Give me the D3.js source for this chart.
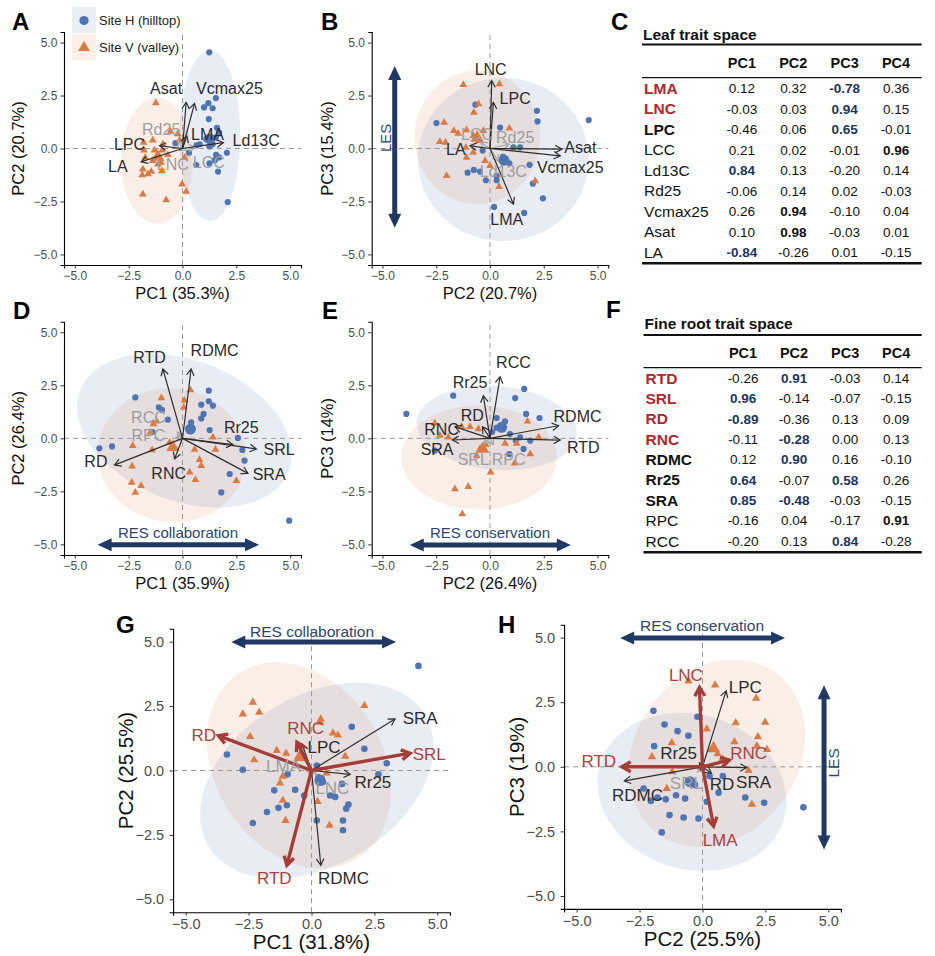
<!DOCTYPE html>
<html>
<head>
<meta charset="utf-8">
<script src="https://cdn.jsdelivr.net/npm/d3@7"></script>
<style>
  body { margin: 0; background: #fff; }
  svg { display: block; font-family: "Liberation Sans", Arial, Helvetica, sans-serif; }
</style>
</head>
<body>
<svg id="fig" width="935" height="956"></svg>
<script>
const blue = "#4f74b3";
const orange = "#dc7a43";
const red = "#a63c36";
const navy = "#1f3964";

// ---- A: leaf PCA, PC1 vs PC2
const aH = [[1.24,4.54],[1.55,2.38],[1.2,2.14],[1.0,1.94],[1.4,1.9],[1.22,1.39],[1.6,0.98],[1.7,0.75],[1.55,0.52],[1.1,0.44],[1.4,0.2],[1.25,0.1],[0.8,0.2],[0.65,0.15],[2.06,-0.2],[1.56,-0.3],[1.7,-0.42],[1.5,-0.55],[1.25,-0.7],[1.65,-1.09],[0.64,-0.78],[-0.33,0.25],[0.3,-0.2],[2.1,-2.53]];
const aV = [[-1.24,2.15],[-0.56,0.8],[-0.22,0.68],[-1.38,0.39],[-1.81,0.28],[-0.91,0.2],[-1.79,-0.08],[-1.3,-0.08],[-0.94,-0.08],[-0.68,-0.3],[-1.73,-0.43],[-1.38,-0.58],[-1.14,-0.74],[-0.99,-0.66],[-1.84,-0.98],[-1.6,-1.21],[-1.45,-1.09],[-1.87,-1.25],[-0.96,-1.06],[-0.02,-1.69],[0.17,-2.03],[-1.84,-2.16],[-0.76,-2.43],[-0.14,0.39],[0.1,-0.43]];
const aMean = [[1.27,0.45],[-1.15,-0.4]];
const aEll = [[1.27,0.6,1.41,4.02,0],[-1.19,-0.57,1.66,2.98,0]];
const aTraits = ["Rd25","LNC","LCC","Asat","Vcmax25","Ld13C","LPC","LA","LMA"];
const aLoad = [[-0.2,0.35],[-0.15,-0.1],[0.6,0.05],[0.17,2.18],[0.56,2.13],[1.9,0.28],[-1.07,0.13],[-1.92,-0.63],[0.2,0.6]];
const aLab = [[-0.99,0.91],[-0.45,-0.74],[1.22,-0.66],[-0.76,2.85],[2.18,2.85],[3.42,0.36],[-2.46,0.17],[-3.0,-0.85],[1.16,0.65]];
const aMinor = ["Rd25","LNC","LCC"];

// ---- B: leaf PCA, PC2 vs PC3
const bH = [[-2.49,1.2],[-0.68,2.07],[0.47,0.99],[2.18,1.78],[2.21,1.28],[4.59,1.34],[1.4,0.05],[1.09,0.05],[-0.34,-0.1],[1.84,-0.77],[-1.04,-1.14],[-0.75,-1.01],[-0.47,-1.09],[-0.19,-1.5],[0.31,-1.5],[0.31,-1.29],[1.99,-1.66],[2.46,-2.35],[0.19,-2.76],[1.59,-3.04],[0.6,-0.4],[0.9,-0.7]];
const bV = [[-1.24,3.01],[0.44,3.04],[-2.13,1.23],[-1.68,0.84],[-0.75,1.7],[-0.54,2.1],[-1.09,0.87],[-1.48,0.71],[-2.33,0.32],[-2.07,0.28],[-0.78,0.6],[-0.31,0.84],[0.9,0.95],[-1.12,0.05],[-0.78,-0.19],[-1.09,-0.43],[-0.23,-0.58],[0,-0.82],[-2.02,-1.29],[0.42,-1.81],[2.1,-1.53],[-0.47,0.36]];
const bMean = [[0.65,-0.55],[-0.6,0.5]];
const bEll = [[0.62,-0.52,3.97,3.85,0],[-0.59,0.52,2.92,3.15,0]];
const bTraits = ["LCC","Rd25","Ld13C","LNC","LPC","Asat","Vcmax25","LMA","LA"];
const bLoad = [[-0.45,0.3],[0.9,0.2],[0.4,-0.6],[0.08,3.2],[0.16,2.18],[3.34,-0.03],[3.27,-0.35],[1.09,-2.63],[-0.93,0.13]];
const bLab = [[-0.6,0.68],[1.17,0.52],[0.62,-1.09],[0.03,3.75],[1.17,2.38],[4.2,0.05],[3.73,-0.9],[0.78,-3.34],[-1.59,-0.03]];
const bMinor = ["LCC","Rd25","Ld13C"];

// ---- D: root PCA, PC1 vs PC2
const dH = [[-2.19,1.93],[1.22,2.25],[1.22,1.75],[1.41,1.54],[0.87,1.59],[0.98,1.15],[0.87,0.94],[-1.1,1.46],[-0.95,1.34],[-0.68,0.88],[0.4,0.75],[1.26,0.39],[2.57,0.02],[2.78,-0.55],[2.88,-1.05],[2.19,-1.68],[1.8,-2.55],[4.95,-3.88],[-3.86,-0.47],[-3.27,-0.38],[-1.4,0.3]];
const dV = [[0.37,2.28],[-0.98,1.9],[0.09,1.78],[0.06,1.46],[-1.35,0.68],[-1.5,0.28],[-2.31,-0.35],[-1.41,-0.55],[-0.45,-0.42],[1.41,0.05],[1.53,-0.53],[0.56,-0.53],[0.79,-1.01],[0.87,-1.29],[-2.34,-1.32],[0.33,-1.6],[0.6,-1.95],[2.5,-2.0],[-2.36,-2.08],[-1.92,-2.23],[-2.19,-2.55],[-1.2,0.8],[-0.6,-0.2]];
const dMean = [[0.37,0.44],[-0.45,-0.42]];
const dEll = [[0.09,0.36,5.2,3.3,-22],[-0.5,-0.8,3.45,3.15,-10]];
const dTraits = ["RCC","RPC","RTD","RDMC","Rr25","SRL","SRA","RNC","RD"];
const dLoad = [[-0.25,0.3],[-0.3,0.05],[-0.91,3.27],[0.4,3.27],[2.34,-0.3],[3.43,-0.5],[3.04,-1.65],[-0.37,-0.97],[-3.16,-1.26]];
const dLab = [[-1.58,0.99],[-1.58,0.13],[-1.53,3.82],[1.49,4.14],[2.73,0.52],[4.48,-0.5],[4.02,-1.68],[-0.64,-1.65],[-4.02,-1.1]];
const dMinor = ["RCC","RPC"];

// ---- E: root PCA, PC2 vs PC3
const eH = [[-3.89,1.15],[-1.71,2.01],[1.59,2.33],[1.17,1.9],[1.68,1.15],[2.3,0.96],[0.31,0.96],[0.7,0.8],[0.93,0.2],[1.4,0.05],[1.87,-0.11],[1.56,-0.5],[0.9,-0.74],[-2.57,-0.58],[0.3,0.5],[1.2,-0.1],[0.1,0.3]];
const eV = [[-2.57,0.71],[-1.32,0.55],[-0.93,0.55],[-0.54,0.44],[-2.33,0.13],[-1.94,0.05],[0.7,-0.24],[1.24,-0.24],[2.26,0.05],[1.74,0.8],[1.87,-0.74],[1.14,-1.18],[-0.47,-0.5],[-0.62,-0.82],[0.03,-1.6],[-1.01,-2.28],[-1.63,-2.39],[-1.29,-3.57],[-0.2,-0.3]];
const eMean = [[0.54,0.52],[-0.34,-0.5]];
const eEll = [[0.31,0.49,3.73,1.97,-5],[-0.51,-0.9,3.62,2.45,0]];
const eTraits = ["SRL","RPC","RCC","Rr25","RD","RNC","SRA","RDMC","RTD"];
const eLoad = [[-0.3,-0.25],[0.15,-0.3],[0.47,2.91],[-0.31,2.01],[-0.35,0.55],[-1.63,0.55],[-1.75,-0.08],[3.19,0.6],[3.27,-0.08]];
const eLab = [[-0.78,-0.97],[0.87,-0.97],[1.09,3.58],[-0.93,2.64],[-0.82,1.07],[-2.25,0.44],[-2.46,-0.5],[4.07,1.02],[4.34,-0.42]];
const eMinor = ["SRL","RPC"];

// ---- G: whole-plant PCA, PC1 vs PC2
const gH = [[4.25,4.06],[1.6,1.7],[2.1,0.84],[2.99,0.28],[2.66,-0.15],[-3.36,0.62],[-2.73,0.03],[-0.95,-0.15],[-1.48,-0.77],[-0.65,-0.75],[-0.29,-0.97],[0.21,0.19],[0.28,-0.26],[0.45,-0.45],[0.74,-0.97],[0.94,-1.03],[1.21,-0.52],[1.47,-1.32],[1.38,-1.48],[-1.31,-1.45],[-0.98,-1.35],[-1.77,-1.61],[-2.33,-2.04],[0.21,-1.94],[1.25,-1.94],[1.25,-2.32],[0.4,-0.3]];
const gV = [[-2.33,2.65],[-2.73,2.19],[-2.08,2.26],[-2.44,1.32],[-2.28,0.41],[-1.38,0.77],[-1.01,0.67],[0.37,2.0],[0.34,1.87],[0.85,1.45],[1.05,1.37],[1.34,0.55],[2.1,2.52],[-1.14,-0.23],[-1.25,-0.49],[-1.14,-1.16],[-1.03,-1.94],[0.24,-1.21],[0.72,-2.13],[-0.52,0.54],[-0.32,0.45],[0.6,-0.1]];
const gMean = [[0.34,-0.39],[-0.45,0.52]];
const gEll = [[0.21,-0.39,5.0,3.3,30],[-0.5,0.2,4.3,3.3,-55]];
const gTraits = ["LMA","LNC","SRA","LPC","Rr25","RDMC","RD","RNC","SRL","RTD"];
const gLoad = [[-0.3,0.1],[0.2,-0.15],[3.32,2.0],[-0.38,1.03],[1.54,-0.15],[0.37,-3.68],[-3.7,1.35],[-0.58,1.1],[3.92,0.67],[-0.98,-3.68]];
const gLab = [[-1.11,0.19],[0.83,-0.67],[4.32,2.04],[0.5,0.9],[2.44,-0.43],[1.27,-4.19],[-4.28,1.39],[-0.23,1.64],[4.68,0.65],[-1.48,-4.19]];
const gMinor = ["LMA","LNC"];
const gSpectrum = ["RD","RNC","SRL","RTD"];

// ---- H: whole-plant PCA, PC2 vs PC3
const hH = [[-1.95,2.17],[-1.51,1.64],[-0.99,1.38],[-0.56,1.2],[-0.2,1.94],[-1.92,0.8],[-2.34,-0.84],[-2.05,-1.32],[-1.79,-1.19],[-1.46,-1.26],[-1.05,-1.1],[-0.69,-1.23],[-0.56,-0.52],[0.28,-0.36],[0.81,-0.36],[0.64,-1.0],[0.17,-1.35],[-1.31,-1.87],[-0.75,-1.96],[-0.16,-2.0],[-1.62,-2.54],[1.7,-1.19],[2.45,-1.39],[4.01,-1.57],[-0.3,-0.7]];
const hV = [[-0.56,3.32],[0.5,3.16],[2.13,2.65],[1.32,1.7],[2.2,1.16],[2.49,1.72],[1.27,0.97],[0.17,1.46],[-1.22,0.93],[-2.01,0.39],[2.16,0.8],[1.83,-0.15],[2.56,0.67],[-1.42,-0.84],[1.96,-1.45],[0.6,0.5],[0.8,0.3],[-1.2,-0.2]];
const hMean = [[-0.49,-0.58],[0.44,0.71]];
const hEll = [[-0.42,-0.97,3.8,3.0,-15],[0.57,0.52,3.9,3.2,50]];
const hTraits = ["SRL","Rr25","RD","LPC","RDMC","SRA","LNC","RTD","RNC","LMA"];
const hLoad = [[-0.2,-0.2],[-0.12,0.15],[0.35,-0.25],[0.94,2.94],[-3.11,-0.55],[1.76,-0.03],[-0.12,3.07],[-3.2,0],[1.07,0.26],[0.44,-2.3]];
const hLab = [[-0.64,-0.62],[-0.95,0.52],[0.78,-0.68],[1.7,3.07],[-2.58,-1.1],[2.03,-0.58],[-0.66,3.55],[-4.12,0.23],[1.83,0.54],[0.7,-2.84]];
const hMinor = ["SRL"];
const hSpectrum = ["LNC","RTD","RNC","LMA"];

// ---- loading tables (C, F)
const pcs = ["PC1", "PC2", "PC3", "PC4"];
const leafTraits = ["LMA","LNC","LPC","LCC","Ld13C","Rd25","Vcmax25","Asat","LA"];
const leafLoadings = [[0.12,0.32,-0.78,0.36],[-0.03,0.03,0.94,0.15],[-0.46,0.06,0.65,-0.01],[0.21,0.02,-0.01,0.96],[0.84,0.13,-0.20,0.14],[-0.06,0.14,0.02,-0.03],[0.26,0.94,-0.10,0.04],[0.10,0.98,-0.03,0.01],[-0.84,-0.26,0.01,-0.15]];
// 2 = loading that defines a spectrum axis, 1 = dominant loading
const leafSig = [[0,0,2,0],[0,0,2,0],[0,0,2,0],[0,0,0,1],[2,0,0,0],[0,0,0,0],[0,1,0,0],[0,1,0,0],[2,0,0,0]];
// 2 = spectrum trait, 1 = key trait
const leafRank = [2,2,1,0,0,0,0,0,0];
const rootTraits = ["RTD","SRL","RD","RNC","RDMC","Rr25","SRA","RPC","RCC"];
const rootLoadings = [[-0.26,0.91,-0.03,0.14],[0.96,-0.14,-0.07,-0.15],[-0.89,-0.36,0.13,0.09],[-0.11,-0.28,0.00,0.13],[0.12,0.90,0.16,-0.10],[0.64,-0.07,0.58,0.26],[0.85,-0.48,-0.03,-0.15],[-0.16,0.04,-0.17,0.91],[-0.20,0.13,0.84,-0.28]];
const rootSig = [[0,2,0,0],[2,0,0,0],[2,0,0,0],[0,2,0,0],[0,2,0,0],[2,0,2,0],[2,2,0,0],[0,0,0,1],[0,0,2,0]];
const rootRank = [2,2,2,2,1,1,1,0,0];

const svg = d3.select("#fig");
svg.append("rect").attr("width", 935).attr("height", 956).attr("fill", "#fff");

function arrowHead(x0, y0, x1, y1, len) {
  const a = Math.atan2(y1 - y0, x1 - x0);
  const s = Math.PI / 6;
  return `M${x1 - len * Math.cos(a - s)},${y1 - len * Math.sin(a - s)}L${x1},${y1}` +
    `L${x1 - len * Math.cos(a + s)},${y1 - len * Math.sin(a + s)}`;
}

function doubleArrow(g, x1, y1, x2, y2, hl, hw, w) {
  const a = Math.atan2(y2 - y1, x2 - x1), c = Math.cos(a), s = Math.sin(a);
  g.append("line")
    .attr("x1", x1 + c * hl * 0.8).attr("y1", y1 + s * hl * 0.8)
    .attr("x2", x2 - c * hl * 0.8).attr("y2", y2 - s * hl * 0.8)
    .attr("stroke", navy).attr("stroke-width", w);
  [[x1, y1, -1], [x2, y2, 1]].forEach(([tx, ty, k]) => {
    const bx = tx - k * c * hl, by = ty - k * s * hl;
    g.append("path")
      .attr("d", `M${tx},${ty}L${bx - s * hw},${by + c * hw}L${bx + s * hw},${by - c * hw}Z`)
      .attr("fill", navy);
  });
}

function biplot(p) {
  const x = d3.scaleLinear().domain([-5.5, 5.5]).range(p.xr);
  const y = d3.scaleLinear().domain([-5.5, 5.5]).range(p.yr);
  const g = svg.append("g");
  const fs = p.big ? { lab: 17, tick: 14.5, title: 20.5, r: 3.3, tri: 30 } : { lab: 16, tick: 12, title: 16.5, r: 3.1, tri: 26 };
  const spectrum = p.spectrum || [];

  // normal-data ellipses per site
  const ellPath = (e) => d3.line()(d3.range(0, 361, 3).map((t) => {
    const a = t * Math.PI / 180, th = e[4] * Math.PI / 180;
    const ux = e[2] * Math.cos(a), uy = e[3] * Math.sin(a);
    return [x(e[0] + ux * Math.cos(th) - uy * Math.sin(th)), y(e[1] + ux * Math.sin(th) + uy * Math.cos(th))];
  }));
  g.selectAll(".ell").data(p.ell).join("path")
    .attr("d", ellPath)
    .attr("fill", (d, i) => (i ? orange : blue))
    .attr("fill-opacity", 0.13);

  g.append("line").attr("x1", p.xr[0]).attr("x2", p.xr[1]).attr("y1", y(0)).attr("y2", y(0))
    .attr("stroke", "#9a9a9a").attr("stroke-dasharray", "5,4");
  g.append("line").attr("x1", x(0)).attr("x2", x(0)).attr("y1", p.yr[0]).attr("y2", p.yr[1])
    .attr("stroke", "#9a9a9a").attr("stroke-dasharray", "5,4");

  g.selectAll(".ph").data(p.h).join("circle")
    .attr("cx", (d) => x(d[0])).attr("cy", (d) => y(d[1])).attr("r", fs.r).attr("fill", blue);
  g.selectAll(".pv").data(p.v).join("path")
    .attr("d", d3.symbol(d3.symbolTriangle, fs.tri))
    .attr("transform", (d) => `translate(${x(d[0])},${y(d[1])})`).attr("fill", orange);
  g.append("circle").attr("cx", x(p.mean[0][0])).attr("cy", y(p.mean[0][1])).attr("r", 5.5).attr("fill", blue);
  g.append("path").attr("d", d3.symbol(d3.symbolTriangle, 75))
    .attr("transform", `translate(${x(p.mean[1][0])},${y(p.mean[1][1])})`).attr("fill", orange);

  const kindOf = (t) => (p.minor.includes(t) ? "g" : (spectrum.includes(t) ? "r" : "k"));
  const lineCol = { g: "#a8a8a8", r: red, k: "#2e2e2e" };
  const textCol = { g: "#9d9d9d", r: "#a8443d", k: "#2b2b2b" };

  p.traits.forEach((t, i) => {
    const k = kindOf(t);
    const x0 = x(0), y0 = y(0), x1 = x(p.load[i][0]), y1 = y(p.load[i][1]);
    const w = k === "r" ? 3.4 : 1.2;
    const a = Math.atan2(y1 - y0, x1 - x0);
    const back = k === "r" ? 2.5 : 0.5;
    g.append("line").attr("x1", x0).attr("y1", y0)
      .attr("x2", x1 - back * Math.cos(a)).attr("y2", y1 - back * Math.sin(a))
      .attr("stroke", lineCol[k]).attr("stroke-width", w);
    g.append("path").attr("d", arrowHead(x0, y0, x1, y1, k === "r" ? 10 : 7.5))
      .attr("fill", "none").attr("stroke", lineCol[k]).attr("stroke-width", w)
      .attr("stroke-linejoin", "miter").attr("stroke-linecap", "butt");
  });
  p.traits.forEach((t, i) => {
    g.append("text").text(t)
      .attr("x", x(p.lab[i][0])).attr("y", y(p.lab[i][1])).attr("dy", "0.35em")
      .attr("text-anchor", "middle").attr("font-size", fs.lab).attr("fill", textCol[kindOf(t)]);
  });

  (p.spectra || []).forEach((s) => {
    doubleArrow(g, x(s.from[0]), y(s.from[1]), x(s.to[0]), y(s.to[1]), 14, 6.5, 5);
    const tx = g.append("text").text(s.text)
      .attr("font-size", p.big ? 15.5 : 15).attr("fill", "#2d4570")
      .attr("text-anchor", "middle").attr("dy", "0.35em");
    if (s.vertical) tx.attr("transform", `translate(${x(s.at[0])},${y(s.at[1])}) rotate(-90)`);
    else tx.attr("x", x(s.at[0])).attr("y", y(s.at[1]));
  });

  const ticks = [-5, -2.5, 0, 2.5, 5];
  const fmt = d3.format(".1f");
  const ax = g.append("g").attr("transform", `translate(0,${p.yr[0]})`)
    .call(d3.axisBottom(x).tickValues(ticks).tickFormat(fmt).tickSizeOuter(0).tickSize(3.5).tickPadding(p.big ? 3 : 2.5));
  const ay = g.append("g").attr("transform", `translate(${p.xr[0]},0)`)
    .call(d3.axisLeft(y).tickValues(ticks).tickFormat(fmt).tickSizeOuter(0).tickSize(3.5).tickPadding(p.big ? 5.5 : 3.2));
  [ax, ay].forEach((a) => {
    a.attr("font-family", null).attr("font-size", fs.tick);
    a.select(".domain").attr("stroke", "#000").attr("stroke-width", 1.1);
    a.selectAll(".tick line").attr("stroke", "#333");
    a.selectAll(".tick text").attr("fill", "#4d4d4d");
  });

  g.append("text").text(p.xTitle)
    .attr("x", (p.xr[0] + p.xr[1]) / 2).attr("y", p.yr[0] + (p.big ? 37 : 34))
    .attr("text-anchor", "middle").attr("font-size", fs.title).attr("fill", "#111");
  g.append("text").text(p.yTitle)
    .attr("transform", `translate(${p.yTitleX},${(p.yr[0] + p.yr[1]) / 2}) rotate(-90)`)
    .attr("dy", "0.35em").attr("text-anchor", "middle").attr("font-size", fs.title).attr("fill", "#111");
}

function loadingTable(t) {
  const g = svg.append("g");
  g.append("text").text(t.title).attr("x", t.left + 1).attr("y", t.titleY)
    .attr("font-weight", "bold").attr("font-size", 15.5).attr("fill", "#111");
  g.append("line").attr("x1", t.left).attr("x2", t.right).attr("y1", t.topRule).attr("y2", t.topRule)
    .attr("stroke", "#111").attr("stroke-width", 2);
  const col = d3.scaleBand().domain(pcs).range([t.colLeft, t.right]);
  const row = (i) => t.row0 + i * t.step;
  g.selectAll(".hd").data(pcs).join("text").text((d) => d)
    .attr("x", (d) => col(d) + col.bandwidth() / 2).attr("y", t.headY).attr("dy", "0.35em")
    .attr("text-anchor", "middle").attr("font-weight", "bold").attr("font-size", 14.5).attr("fill", "#111");
  g.append("line").attr("x1", t.left).attr("x2", t.right).attr("y1", t.midRule).attr("y2", t.midRule)
    .attr("stroke", "#111").attr("stroke-width", 1.2);
  t.traits.forEach((name, i) => {
    g.append("text").text(name).attr("x", t.left + 2).attr("y", row(i)).attr("dy", "0.35em")
      .attr("font-size", 15.5)
      .attr("font-weight", t.rank[i] ? "bold" : "normal")
      .attr("fill", t.rank[i] === 2 ? "#b0262c" : "#111");
    t.values[i].forEach((v, j) => {
      g.append("text").text(v.toFixed(2))
        .attr("x", col(pcs[j]) + col.bandwidth() / 2).attr("y", row(i)).attr("dy", "0.35em")
        .attr("text-anchor", "middle").attr("font-size", 13.5)
        .attr("font-weight", t.sig[i][j] ? "bold" : "normal")
        .attr("fill", t.sig[i][j] === 2 ? "#1b3560" : "#111");
    });
  });
  g.append("line").attr("x1", t.left).attr("x2", t.right).attr("y1", t.bottomRule).attr("y2", t.bottomRule)
    .attr("stroke", "#111").attr("stroke-width", 2.5);
}

biplot({ xr: [64, 301], yr: [265, 32], h: aH, v: aV, mean: aMean, ell: aEll,
  traits: aTraits, load: aLoad, lab: aLab, minor: aMinor,
  xTitle: "PC1 (35.3%)", yTitle: "PC2 (20.7%)", yTitleX: 18 });
biplot({ xr: [371.7, 608.3], yr: [265, 32], h: bH, v: bV, mean: bMean, ell: bEll,
  traits: bTraits, load: bLoad, lab: bLab, minor: bMinor,
  xTitle: "PC2 (20.7%)", yTitle: "PC3 (15.4%)", yTitleX: 327,
  spectra: [{ from: [-4.43, -3.74], to: [-4.43, 3.9], text: "LES", at: [-4.84, 0.5], vertical: true }] });
biplot({ xr: [64, 301], yr: [555, 321.7], h: dH, v: dV, mean: dMean, ell: dEll,
  traits: dTraits, load: dLoad, lab: dLab, minor: dMinor,
  xTitle: "PC1 (35.9%)", yTitle: "PC2 (26.4%)", yTitleX: 18,
  spectra: [{ from: [-3.94, -5.02], to: [3.55, -5.02], text: "RES collaboration", at: [-0.21, -4.47] }] });
biplot({ xr: [371.7, 608.3], yr: [555, 321.7], h: eH, v: eV, mean: eMean, ell: eEll,
  traits: eTraits, load: eLoad, lab: eLab, minor: eMinor,
  xTitle: "PC2 (26.4%)", yTitle: "PC3 (14%)", yTitleX: 327,
  spectra: [{ from: [-3.73, -5.03], to: [3.76, -5.03], text: "RES conservation", at: [0, -4.47] }] });
biplot({ xr: [173.1, 449.9], yr: [912.2, 628.8], h: gH, v: gV, mean: gMean, ell: gEll,
  traits: gTraits, load: gLoad, lab: gLab, minor: gMinor, spectrum: gSpectrum, big: true,
  xTitle: "PC1 (31.8%)", yTitle: "PC2 (25.5%)", yTitleX: 126,
  spectra: [{ from: [-3.19, 4.99], to: [3.36, 4.99], text: "RES collaboration", at: [0.02, 5.41] }] });
biplot({ xr: [564.1, 840.9], yr: [908.9, 624.7], h: hH, v: hV, mean: hMean, ell: hEll,
  traits: hTraits, load: hLoad, lab: hLab, minor: hMinor, spectrum: hSpectrum, big: true,
  xTitle: "PC2 (25.5%)", yTitle: "PC3 (19%)", yTitleX: 517,
  spectra: [
    { from: [-3.27, 4.99], to: [3.28, 4.99], text: "RES conservation", at: [-0.02, 5.45] },
    { from: [4.83, 3.16], to: [4.83, -3.2], text: "LES", at: [5.19, 0.15], vertical: true }
  ] });

loadingTable({ title: "Leaf trait space", traits: leafTraits, values: leafLoadings, sig: leafSig, rank: leafRank,
  left: 642, right: 921.7, colLeft: 716.3, titleY: 39.5, topRule: 44.5, headY: 63, midRule: 77.7,
  row0: 88.3, step: 20.5, bottomRule: 263.3 });
loadingTable({ title: "Fine root trait space", traits: rootTraits, values: rootLoadings, sig: rootSig, rank: rootRank,
  left: 643.5, right: 921.7, colLeft: 717.5, titleY: 329, topRule: 335, headY: 352.7, midRule: 367.7,
  row0: 378.3, step: 20.35, bottomRule: 552.3 });

// legend (panel A)
const leg = svg.append("g");
leg.append("rect").attr("x", 72).attr("y", 7).attr("width", 24).attr("height", 26).attr("fill", blue).attr("fill-opacity", 0.12);
leg.append("rect").attr("x", 72).attr("y", 34.5).attr("width", 24).attr("height", 26).attr("fill", orange).attr("fill-opacity", 0.12);
leg.append("circle").attr("cx", 84).attr("cy", 20.5).attr("r", 4.6).attr("fill", blue);
leg.append("path").attr("d", d3.symbol(d3.symbolTriangle, 60)).attr("transform", "translate(84,47.5)").attr("fill", orange);
leg.append("text").text("Site H (hilltop)").attr("x", 99).attr("y", 20.5).attr("dy", "0.35em").attr("font-size", 13).attr("fill", "#222");
leg.append("text").text("Site V (valley)").attr("x", 99).attr("y", 47.5).attr("dy", "0.35em").attr("font-size", 13).attr("fill", "#222");

// panel letters
const letters = [["A", 12, 30], ["B", 321, 30], ["C", 611, 30], ["D", 13, 319], ["E", 322, 319], ["F", 606, 318], ["G", 116, 633], ["H", 498, 633]];
svg.selectAll(".letter").data(letters).join("text")
  .text((d) => d[0]).attr("x", (d) => d[1]).attr("y", (d) => d[2])
  .attr("font-size", 24).attr("font-weight", "bold").attr("fill", "#000");
</script>
</body>
</html>
